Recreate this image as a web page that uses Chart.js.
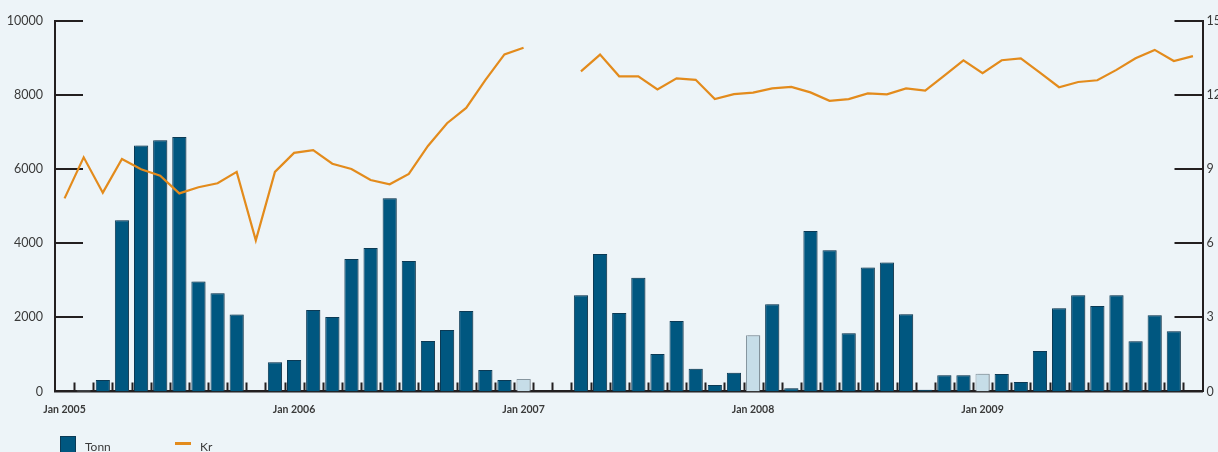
<!DOCTYPE html>
<html>
<head>
<meta charset="utf-8">
<script src="https://cdn.jsdelivr.net/npm/chart.js@4.4.1/dist/chart.umd.min.js"></script>
<style>
  html, body { margin: 0; padding: 0; background: #edf4f8; }
  #wrap { position: relative; width: 1218px; height: 452px; overflow: hidden; }
  #legend { position: absolute; left: 0; top: 0; width: 1218px; height: 452px; pointer-events: none;
    font-family: Lato, "Open Sans", sans-serif; font-size: 12px; color: #3a3a3a; }
  .sw-bar { position: absolute; left: 60px; top: 436px; width: 14px; height: 20px;
    background: #005780; border: 1px solid #0b3a55; }
  .sw-line { position: absolute; left: 175px; top: 442px; width: 16px; height: 3px; background: #e38b1c; }
  .lbl { position: absolute; top: 439px; }
</style>
</head>
<body>
<div id="wrap">
  <canvas id="chart" width="1218" height="452"></canvas>
  <div id="legend">
    <div class="sw-bar"></div><div class="lbl" style="left:85px">Tonn</div>
    <div class="sw-line"></div><div class="lbl" style="left:200px">Kr</div>
  </div>
</div>
<script>
// ---------- Data ----------
const MONTHS = ['Jan', 'Feb', 'Mar', 'Apr', 'May', 'Jun', 'Jul', 'Aug', 'Sep', 'Oct', 'Nov', 'Dec'];
const YEARS = [2005, 2006, 2007, 2008, 2009];

// Tonn (left axis), one value per month, null = no bar
const tonn2005 = [null, 30, 310, 4620, 6640, 6780, 6870, 2970, 2650, 2080, null, 790];
const tonn2006 = [850, 2200, 2010, 3575, 3870, 5215, 3520, 1360, 1660, 2170, 580, 310];
const tonn2007 = [337, null, null, 2600, 3710, 2120, 3070, 1010, 1900, 615, 175, 508];
const tonn2008 = [1516, 2352, 86, 4330, 3810, 1570, 3350, 3485, 2083, 50, 437, 437];
const tonn2009 = [480, 470, 256, 1093, 2244, 2596, 2307, 2596, 1354, 2056, 1624, null];

// Kr (right axis)
const kr2005 = [7.82, 9.48, 8.05, 9.41, 9.0, 8.74, 8.02, 8.27, 8.43, 8.89, 6.12, 8.89];
const kr2006 = [9.66, 9.77, 9.22, 9.01, 8.56, 8.39, 8.81, 9.94, 10.86, 11.48, 12.61, 13.65];
const kr2007 = [13.92, null, null, 12.96, 13.64, 12.76, 12.76, 12.23, 12.68, 12.62, 11.84, 12.04];
const kr2008 = [12.10, 12.27, 12.33, 12.11, 11.77, 11.84, 12.07, 12.03, 12.27, 12.18, 12.79, 13.41];
const kr2009 = [12.89, 13.41, 13.49, 12.91, 12.32, 12.53, 12.60, 13.02, 13.49, 13.83, 13.38, 13.58];

// months drawn with the pale bar
const paleMonths = ['Feb 2005', 'Jan 2007', 'Jan 2008', 'Jan 2009'];

const leftTicks = [0, 2000, 4000, 6000, 8000, 10000];
const rightTicks = [0, 3, 6, 9, 12, 15];

// ---------- Build ----------
const labels = [];
YEARS.forEach((y) => MONTHS.forEach((m) => labels.push(m + ' ' + y)));
const tonn = [...tonn2005, ...tonn2006, ...tonn2007, ...tonn2008, ...tonn2009];
const kr = [...kr2005, ...kr2006, ...kr2007, ...kr2008, ...kr2009];

const DARK = '#005780';
const DARK_EDGE = '#0b3a55';
const PALE = '#c6dde8';
const PALE_EDGE = '#86959f';
const ORANGE = '#e38b1c';
const INK = '#231f20';
const TEXT = '#3a3a3a';

const isPale = (i) => paleMonths.includes(labels[i]);

// inward tick marks + bar shadow
const axisMarks = {
  id: 'axisMarks',
  beforeDatasetsDraw(chart) {
    const { ctx, chartArea: a, scales } = chart;
    ctx.save();
    ctx.strokeStyle = INK;
    ctx.lineWidth = 2;
    ctx.beginPath();
    const xs = scales.x;
    for (let i = 0; i < labels.length - 1; i++) {
      const x = Math.round((xs.getPixelForValue(i) + xs.getPixelForValue(i + 1)) / 2) + 0.5;
      ctx.moveTo(x, a.bottom);
      ctx.lineTo(x, a.bottom - 9);
    }
    leftTicks.forEach((v) => {
      if (!v) return;
      const y = Math.round(scales.y.getPixelForValue(v));
      ctx.moveTo(a.left, y);
      ctx.lineTo(a.left + 28, y);
    });
    rightTicks.forEach((v) => {
      if (!v) return;
      const y = Math.round(scales.y2.getPixelForValue(v));
      ctx.moveTo(a.right, y);
      ctx.lineTo(a.right - 28, y);
    });
    ctx.stroke();
    ctx.restore();
  },
  beforeDatasetDraw(chart, args) {
    if (args.meta.type !== 'bar') return;
    const ctx = chart.ctx;
    ctx.save();
    ctx.shadowColor = 'rgba(70,80,90,0.35)';
    ctx.shadowOffsetX = 2;
    ctx.shadowOffsetY = 0;
    ctx.shadowBlur = 0;
  },
  afterDatasetDraw(chart, args) {
    if (args.meta.type !== 'bar') return;
    chart.ctx.restore();
  },
};

Chart.defaults.font.family = 'Lato, "Open Sans", sans-serif';
Chart.defaults.color = TEXT;

new Chart(document.getElementById('chart'), {
  data: {
    labels,
    datasets: [
      {
        type: 'line',
        label: 'Kr',
        data: kr,
        yAxisID: 'y2',
        borderColor: ORANGE,
        borderWidth: 2.2,
        pointRadius: 0,
        tension: 0,
        spanGaps: false,
        order: 0,
      },
      {
        type: 'bar',
        label: 'Tonn',
        data: tonn,
        yAxisID: 'y',
        backgroundColor: tonn.map((_, i) => (isPale(i) ? PALE : DARK)),
        borderColor: tonn.map((_, i) => (isPale(i) ? PALE_EDGE : DARK_EDGE)),
        borderWidth: 1,
        borderSkipped: 'bottom',
        categoryPercentage: 1,
        barPercentage: 0.74,
        order: 1,
      },
    ],
  },
  options: {
    responsive: false,
    animation: false,
    layout: { padding: { top: 21, left: 0, right: 0, bottom: 0 } },
    plugins: { legend: { display: false }, tooltip: { enabled: false } },
    scales: {
      x: {
        type: 'category',
        offset: true,
        grid: { display: false, drawTicks: false },
        border: { display: true, color: INK, width: 2.5 },
        ticks: {
          autoSkip: false,
          maxRotation: 0,
          padding: 12,
          color: TEXT,
          font: { size: 10.5, weight: 'bold' },
          callback: (v, i) => (labels[i].startsWith('Jan') ? labels[i] : ''),
        },
        afterFit: (s) => { s.height = 60.5; },
      },
      y: {
        position: 'left',
        min: 0,
        max: 10000,
        afterBuildTicks: (s) => { s.ticks = leftTicks.map((v) => ({ value: v })); },
        grid: { display: false, drawTicks: false },
        border: { display: true, color: INK, width: 2 },
        ticks: { padding: 12, color: TEXT, font: { size: 12.5 }, callback: (v) => String(v) },
        afterFit: (s) => { s.width = 55; },
      },
      y2: {
        position: 'right',
        min: 0,
        max: 15,
        afterBuildTicks: (s) => { s.ticks = rightTicks.map((v) => ({ value: v })); },
        grid: { display: false, drawTicks: false },
        border: { display: true, color: INK, width: 2 },
        ticks: { padding: 4, color: TEXT, font: { size: 12.5 }, callback: (v) => String(v) },
        afterFit: (s) => { s.width = 15.5; },
      },
    },
  },
  plugins: [axisMarks],
});
</script>
</body>
</html>
